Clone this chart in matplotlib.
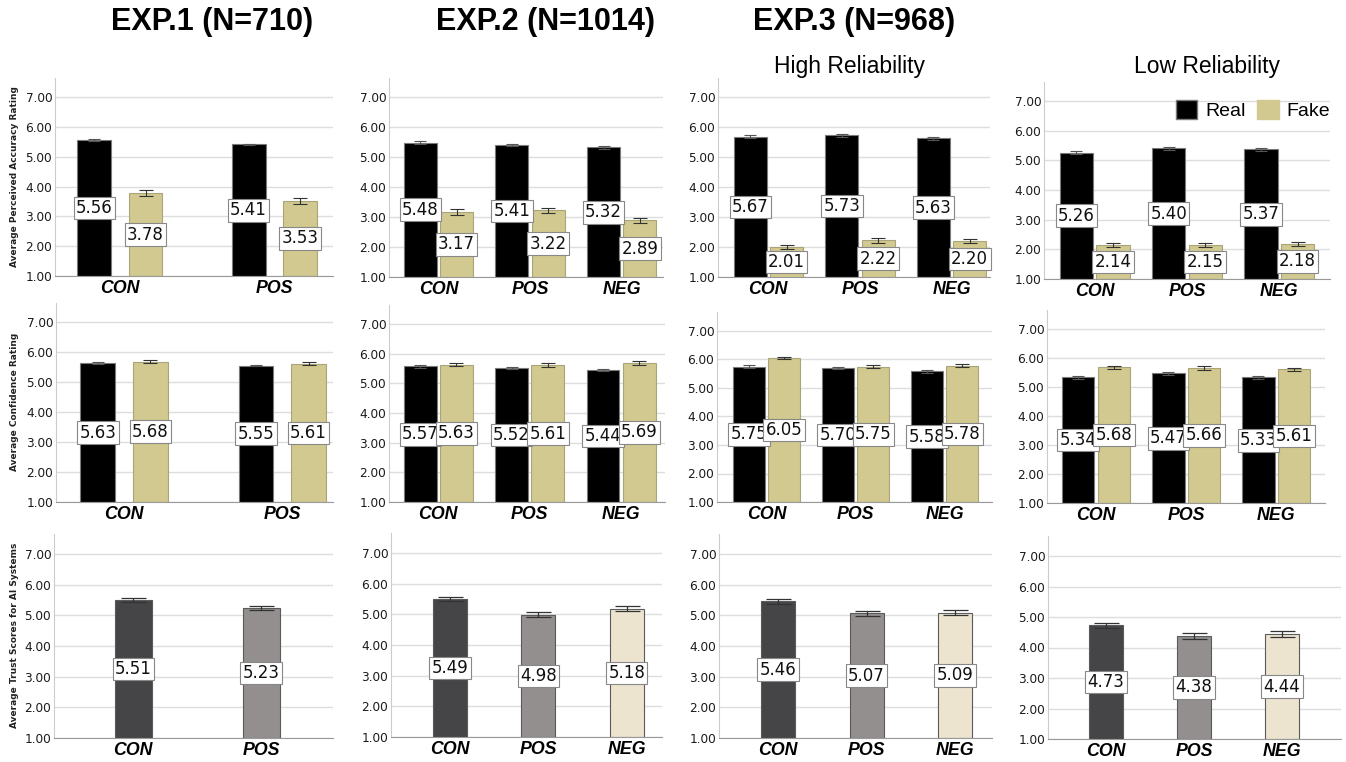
import numpy as np
import matplotlib
matplotlib.use("Agg")
import matplotlib.pyplot as plt
from matplotlib.patches import Patch

# --- data ---
groups2 = ["CON", "POS"]
groups3 = ["CON", "POS", "NEG"]

# perceived accuracy
acc_real = {
    "exp1": [5.56, 5.41],
    "exp2": [5.48, 5.41, 5.32],
    "exp3_high": [5.67, 5.73, 5.63],
    "exp3_low": [5.26, 5.40, 5.37],
}
acc_fake = {
    "exp1": [3.78, 3.53],
    "exp2": [3.17, 3.22, 2.89],
    "exp3_high": [2.01, 2.22, 2.20],
    "exp3_low": [2.14, 2.15, 2.18],
}
acc_real_err = {
    "exp1": [0.03, 0.03],
    "exp2": [0.04, 0.04, 0.04],
    "exp3_high": [0.05, 0.05, 0.05],
    "exp3_low": [0.04, 0.05, 0.05],
}
acc_fake_err = {
    "exp1": [0.10, 0.10],
    "exp2": [0.09, 0.09, 0.09],
    "exp3_high": [0.07, 0.08, 0.08],
    "exp3_low": [0.06, 0.06, 0.07],
}

# confidence
conf_real = {
    "exp1": [5.63, 5.55],
    "exp2": [5.57, 5.52, 5.44],
    "exp3_high": [5.75, 5.70, 5.58],
    "exp3_low": [5.34, 5.47, 5.33],
}
conf_fake = {
    "exp1": [5.68, 5.61],
    "exp2": [5.63, 5.61, 5.69],
    "exp3_high": [6.05, 5.75, 5.78],
    "exp3_low": [5.68, 5.66, 5.61],
}
conf_real_err = {
    "exp1": [0.03, 0.03],
    "exp2": [0.04, 0.04, 0.04],
    "exp3_high": [0.04, 0.05, 0.05],
    "exp3_low": [0.05, 0.05, 0.05],
}
conf_fake_err = {
    "exp1": [0.05, 0.05],
    "exp2": [0.06, 0.06, 0.06],
    "exp3_high": [0.05, 0.06, 0.06],
    "exp3_low": [0.05, 0.06, 0.06],
}

# trust in AI systems
trust = {
    "exp1": [5.51, 5.23],
    "exp2": [5.49, 4.98, 5.18],
    "exp3_high": [5.46, 5.07, 5.09],
    "exp3_low": [4.73, 4.38, 4.44],
}
trust_err = {
    "exp1": [0.06, 0.07],
    "exp2": [0.06, 0.08, 0.08],
    "exp3_high": [0.08, 0.08, 0.08],
    "exp3_low": [0.08, 0.09, 0.09],
}

exp_keys = ["exp1", "exp2", "exp3_high", "exp3_low"]
titles = ["EXP.1 (N=710)", "EXP.2 (N=1014)", "EXP.3 (N=968)"]
subtitles = ["High Reliability", "Low Reliability"]
row_labels = ["Average Perceived Accuracy Rating",
              "Average Confidence Rating",
              "Average Trust Scores for AI Systems"]

REAL = "#000000"
FAKE = "#d1c98f"
TRUST_COLORS = ["#454547", "#938f8e", "#ece4cf"]

# --- layout in pixels: (x0, x1, y_at_7, y_at_1, xlim) ---
W, H = 1346, 762
layout = [
    [(55, 333, 97, 276, (-0.42, 1.38)), (389, 663, 97, 277, (-0.54, 2.45)),
     (718, 990, 97, 277, (-0.55, 2.42)), (1044, 1330, 101, 279, (-0.55, 2.55))],
    [(56, 333, 322, 502, (-0.43, 1.32)), (389, 665, 324, 502, (-0.54, 2.48)),
     (717, 992, 331, 502, (-0.556, 2.53)), (1047, 1325, 329, 503, (-0.544, 2.54))],
    [(54, 333, 554, 738, (-0.62, 1.56)), (391, 662, 553, 737, (-0.67, 2.40)),
     (719, 992, 554, 738, (-0.67, 2.42)), (1048, 1341, 556, 739, (-0.66, 2.67))],
]
YTOP = 7.65

plt.rcParams['font.family'] = ['DejaVu Sans']
fig = plt.figure(figsize=(W / 100, H / 100), dpi=100)


def make_axes(spec):
    x0, x1, y7, y1, xlim = spec
    unit = (y1 - y7) / 6.0
    ytop = y7 - (YTOP - 7) * unit
    ax = fig.add_axes([x0 / W, 1 - y1 / H, (x1 - x0) / W, (y1 - ytop) / H])
    ax.set_xlim(*xlim)
    ax.set_ylim(1, YTOP)
    ax.set_yticks(np.arange(1, 8))
    ax.set_yticklabels([f"{v:.2f}" for v in range(1, 8)], fontsize=8.7, color="#1a1a1a")
    ax.yaxis.grid(True, color="#dddddd", linewidth=1)
    ax.set_axisbelow(True)
    for s in ["top", "right"]:
        ax.spines[s].set_visible(False)
    ax.spines["left"].set_color("#cccccc")
    ax.spines["bottom"].set_color("#999999")
    ax.tick_params(axis="both", length=0)
    ax.tick_params(axis="y", pad=2)
    ax.tick_params(axis="x", pad=3)
    return ax


def value_box(ax, x, v):
    ax.text(x, (1 + v) / 2, f"{v:.2f}", ha="center", va="center", fontsize=12,
            color="#111111", zorder=5,
            bbox=dict(boxstyle="square,pad=0.14", fc="white", ec="#888888", lw=0.8))


def set_groups(ax, names):
    ax.set_xticks(range(len(names)))
    ax.set_xticklabels(names, fontsize=12.8, fontweight="bold", fontstyle="italic",
                       family="Liberation Sans")


def paired(ax, real, fake, rerr, ferr, names, width, off):
    x = np.arange(len(real))
    ax.bar(x - off, np.array(real) - 1, width, bottom=1, color=REAL,
           edgecolor="#7a7a7a", linewidth=0.8, zorder=2)
    ax.bar(x + off, np.array(fake) - 1, width, bottom=1, color=FAKE,
           edgecolor="#aaa47a", linewidth=0.8, zorder=2)
    ax.errorbar(x - off, real, yerr=rerr, fmt="none", ecolor="#555555",
                elinewidth=0.8, capsize=4.5, capthick=0.8, zorder=3)
    ax.errorbar(x + off, fake, yerr=ferr, fmt="none", ecolor="#333333",
                elinewidth=0.8, capsize=5, capthick=0.8, zorder=3)
    for i in range(len(real)):
        value_box(ax, x[i] - off, real[i])
        value_box(ax, x[i] + off, fake[i])
    set_groups(ax, names)


def single(ax, vals, err, names, width):
    x = np.arange(len(vals))
    ax.bar(x, np.array(vals) - 1, width, bottom=1, color=TRUST_COLORS[:len(vals)],
           edgecolor="#5a5a5a", linewidth=0.8, zorder=2)
    ax.errorbar(x, vals, yerr=err, fmt="none", ecolor="#333333",
                elinewidth=0.9, capsize=9, capthick=0.9, zorder=3)
    for i in range(len(vals)):
        value_box(ax, x[i], vals[i])
    set_groups(ax, names)


for c, key in enumerate(exp_keys):
    names = groups2 if key == "exp1" else groups3
    if key == "exp1":
        w, off = 0.22, 0.166
        wt = 0.29
    else:
        w, off = 0.36, 0.198
        wt = 0.385
    ax = make_axes(layout[0][c])
    paired(ax, acc_real[key], acc_fake[key], acc_real_err[key], acc_fake_err[key], names, w, off)
    if key == "exp3_low":
        handles = [Patch(fc=REAL, ec="#7a7a7a"), Patch(fc=FAKE, ec="#d1c98f")]
        ax.legend(handles, ["Real", "Fake"], ncol=2, loc="upper right",
                  bbox_to_anchor=(1.0, 0.905), frameon=False,
                  prop={"family": "Liberation Sans", "size": 14},
                  handlelength=1.1, handleheight=1.1, handletextpad=0.4,
                  columnspacing=0.6, borderaxespad=0.0, borderpad=0.0)
    ax = make_axes(layout[1][c])
    paired(ax, conf_real[key], conf_fake[key], conf_real_err[key], conf_fake_err[key], names, w, off)
    ax = make_axes(layout[2][c])
    single(ax, trust[key], trust_err[key], names, wt)

# titles
title_x = [212, 546, 854]
for tx, t in zip(title_x, titles):
    fig.text(tx / W, 1 - 22 / H, t, ha="center", va="center", fontsize=22,
             fontweight="bold", family="Liberation Sans")
for sx, s in zip([850, 1207], subtitles):
    fig.text(sx / W, 1 - 66 / H, s, ha="center", va="center", fontsize=16.5,
             family="Liberation Sans")

# row labels
for ly, lab in zip([177, 402, 635], row_labels):
    fig.text(15 / W, 1 - ly / H, lab, rotation=90, ha="center", va="center",
             fontsize=6.5, fontweight="bold", color="#222222")

fig.savefig("out.png", dpi=100, facecolor="white")
